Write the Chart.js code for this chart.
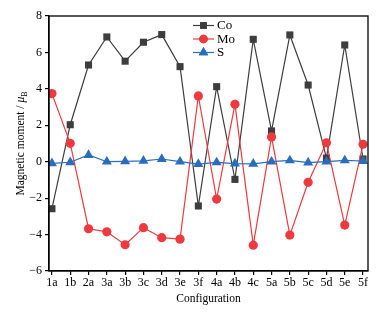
<!DOCTYPE html>
<html>
<head>
<meta charset="utf-8">
<script src="https://cdn.jsdelivr.net/npm/chart.js@4"></script>
<style>
  html, body { margin: 0; padding: 0; background: #fff; }
  #wrap { width: 388px; height: 317px; }
</style>
</head>
<body>
<div id="wrap"><canvas id="myChart" width="388" height="317"></canvas></div>
<script>
const configs = ['1a', '1b', '2a', '3a', '3b', '3c', '3d', '3e', '3f', '4a', '4b', '4c', '5a', '5b', '5c', '5d', '5e', '5f'];
const coValues = [-2.58, 2.03, 5.31, 6.85, 5.52, 6.56, 6.98, 5.22, -2.43, 4.12, -0.97, 6.72, 1.69, 6.96, 4.21, 0.2, 6.41, 0.15];
const moValues = [3.74, 1.01, -3.68, -3.85, -4.56, -3.62, -4.17, -4.25, 3.61, -2.05, 3.15, -4.58, 1.36, -4.03, -1.13, 1.04, -3.48, 0.96];
const sValues = [-0.09, -0.03, 0.37, 0.0, 0.02, 0.05, 0.15, 0.0, -0.13, -0.04, -0.1, -0.12, 0.0, 0.07, -0.05, 0.0, 0.07, 0.04];
const yTicks = [-6, -4, -2, 0, 2, 4, 6, 8];

const serif = '"Liberation Serif", "DejaVu Serif", serif';

function toPoints(values) {
  return values.map((v, i) => ({ x: i, y: v }));
}

// frame + legend + y title drawn by hand
const extras = {
  id: 'extras',
  afterDraw(chart) {
    const c = chart.ctx;
    const a = chart.chartArea;
    c.save();
    c.strokeStyle = '#000';
    c.lineWidth = 1.3;
    c.strokeRect(a.left, a.top, a.right - a.left, a.bottom - a.top);

    // legend
    const rows = [25.5, 39, 52.5];
    chart.data.datasets.forEach((ds, i) => {
      const y = rows[i];
      c.strokeStyle = ds.borderColor;
      c.lineWidth = 1.2;
      c.beginPath();
      c.moveTo(193, y);
      c.lineTo(214, y);
      c.stroke();
      c.fillStyle = ds.backgroundColor;
      c.beginPath();
      Chart.helpers.drawPoint(c, { pointStyle: ds.pointStyle, radius: ds.pointRadius - 0.3, borderWidth: 0 }, 203.5, y);
      c.fill();
      c.fillStyle = '#000';
      c.font = '13px ' + serif;
      c.textBaseline = 'middle';
      c.fillText(ds.label, 217, y + 0.5);
    });

    // y axis title with italic mu and subscript B
    c.translate(21, (a.top + a.bottom) / 2);
    c.rotate(-Math.PI / 2);
    c.fillStyle = '#000';
    c.textBaseline = 'middle';
    const p1 = 'Magnetic moment / ';
    c.font = '11.5px ' + serif;
    const w1 = c.measureText(p1).width;
    c.font = 'italic 11.5px ' + serif;
    const w2 = c.measureText('\u03bc').width;
    c.font = '8px ' + serif;
    const w3 = c.measureText('B').width;
    let x = -(w1 + w2 + w3) / 2;
    c.font = '11.5px ' + serif;
    c.fillText(p1, x, 0);
    x += w1;
    c.font = 'italic 11.5px ' + serif;
    c.fillText('\u03bc', x, 0);
    x += w2;
    c.font = '8px ' + serif;
    c.fillText('B', x, 3.5);
    c.restore();
  }
};

const ctx = document.getElementById('myChart');

new Chart(ctx, {
  type: 'line',
  data: {
    datasets: [{
      label: 'Co',
      data: toPoints(coValues),
      borderColor: '#3d3d3d',
      backgroundColor: '#3d3d3d',
      pointStyle: 'rect',
      pointRadius: 5,
      borderWidth: 1.2,
      pointBorderWidth: 0,
      order: 3
    }, {
      label: 'Mo',
      data: toPoints(moValues),
      borderColor: '#ee3a3f',
      backgroundColor: '#ee3a3f',
      pointStyle: 'circle',
      pointRadius: 4.6,
      borderWidth: 1.2,
      pointBorderWidth: 0,
      order: 2
    }, {
      label: 'S',
      data: toPoints(sValues),
      borderColor: '#2a6dbd',
      backgroundColor: '#2a6dbd',
      pointStyle: 'triangle',
      pointRadius: 5.8,
      borderWidth: 1.2,
      pointBorderWidth: 0,
      order: 1
    }]
  },
  options: {
    responsive: false,
    animation: false,
    layout: { padding: { top: 16, right: 20, left: 0, bottom: 11 } },
    plugins: {
      legend: { display: false },
      tooltip: { enabled: false }
    },
    scales: {
      x: {
        type: 'linear',
        min: -0.16,
        max: 17.27,
        afterBuildTicks(axis) {
          axis.ticks = configs.map((_, i) => ({ value: i }));
        },
        afterFit(axis) { axis.height = 35; },
        ticks: {
          autoSkip: false,
          maxRotation: 0,
          padding: 1,
          color: '#000',
          font: { family: serif, size: 12 },
          callback: (v) => configs[v]
        },
        grid: { drawOnChartArea: false, drawTicks: true, tickLength: 4, color: '#000', lineWidth: 1.2 },
        border: { display: true, color: '#000', width: 1.3 },
        title: {
          display: true,
          text: 'Configuration',
          color: '#000',
          font: { family: serif, size: 11.5 },
          padding: { top: 1, bottom: 0 }
        }
      },
      y: {
        min: -6,
        max: 8,
        afterBuildTicks(axis) {
          axis.ticks = yTicks.map(v => ({ value: v }));
        },
        afterFit(axis) { axis.width = 49; },
        ticks: {
          padding: 3,
          color: '#000',
          font: { family: serif, size: 12 },
          callback: (v) => String(v).replace('-', '\u2212')
        },
        grid: { drawOnChartArea: false, drawTicks: true, tickLength: 4, color: '#000', lineWidth: 1.2 },
        border: { display: true, color: '#000', width: 1.3 }
      }
    }
  },
  plugins: [extras]
});
</script>
</body>
</html>
